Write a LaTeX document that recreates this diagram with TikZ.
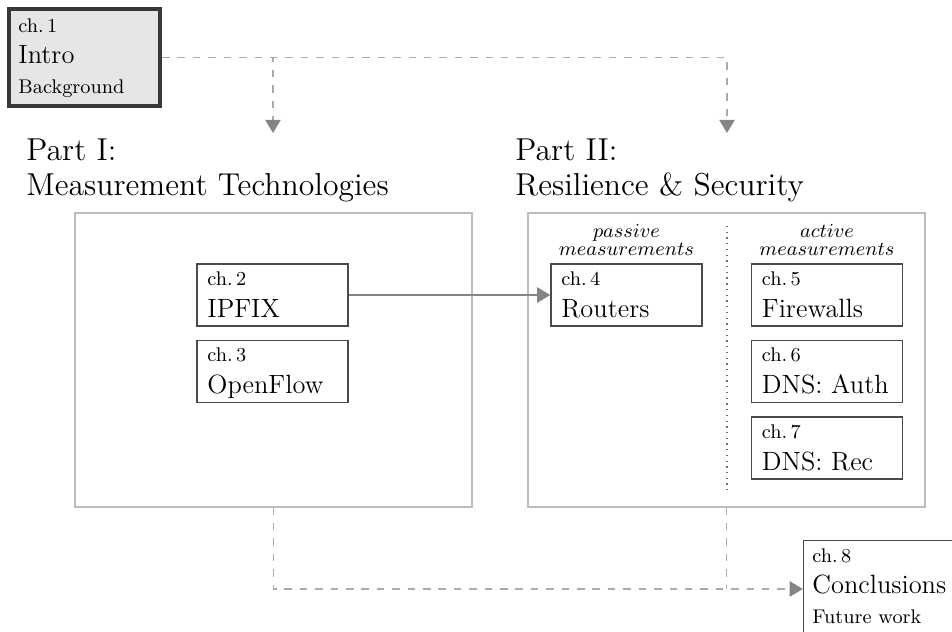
\documentclass[tikz,border=0pt]{standalone}
\usetikzlibrary{arrows.meta}
\def\pxu{0.4545pt}
\definecolor{introfill}{HTML}{E6E6E6}
\definecolor{introedge}{HTML}{383838}
\definecolor{chapedge}{HTML}{4A4A4A}
\definecolor{partedge}{HTML}{BEBEBE}
\definecolor{dashgray}{HTML}{ABABAB}
\definecolor{tipgray}{HTML}{858585}
\definecolor{dotgray}{HTML}{707070}
\begin{document}
\begin{tikzpicture}[x=0.4545pt,y=-0.4545pt,
  chapbox/.style={draw=chapedge, line width=0.6pt, minimum width=151*\pxu, minimum height=62*\pxu, inner sep=0pt},
  bigchap/.style={chapbox, minimum height=97*\pxu},
  introbox/.style={bigchap, fill=introfill, draw=introedge, line width=1.9pt},
  partbox/.style={draw=partedge, line width=0.5pt, minimum width=397*\pxu, minimum height=294*\pxu, inner sep=0pt},
  txt/.style={inner sep=0pt, anchor=base west},
  chno/.style={txt, font=\small},
  chtitle/.style={txt, font=\large},
  chsub/.style={txt, font=\small},
  parttitle/.style={txt, font=\Large},
  mode/.style={inner sep=0pt, anchor=base, font=\small},
  dashconn/.style={draw=dashgray, line width=0.7pt, dash pattern=on 3.4pt off 3.6pt},
  tipped/.style={-{Triangle[length=6pt,width=7pt,color=tipgray]}},
  solidconn/.style={draw=tipgray, line width=0.7pt, tipped},
]
\useasboundingbox (0,0) rectangle (952,632);

% chapter 1
\node[introbox] (intro) at (84.5,57.5) {};
\node[chno] (introno) at (18,32) {ch.\,1};
\node[chtitle] (introtitle) at (18,63) {Intro};
\node[chsub] (introsub) at (18,93) {Background};

% part headings
\node[parttitle] (p1a) at (26,160) {Part I:};
\node[parttitle] (p1b) at (26,195) {Measurement Technologies};
\node[parttitle] (p2a) at (515,160) {Part II:};
\node[parttitle] (p2b) at (515,195) {Resilience \& Security};

% part frames
\node[partbox] (partone) at (273.5,360) {};
\node[partbox] (parttwo) at (726.5,360) {};
\draw[dotgray, line width=0.6pt, dotted] (727,226) -- (727,492);

% measurement kinds
\node[mode] (pas1) at (626.5,237) {$passive$};
\node[mode] (pas2) at (626.5,255) {$measurements$};
\node[mode] (act1) at (827,237) {$active$};
\node[mode] (act2) at (827,255) {$measurements$};

% chapters 2 and 3
\node[chapbox] (c2) at (272.5,295) {};
\node[chno] (c2no) at (207,285) {ch.\,2};
\node[chtitle] (c2t) at (207,317) {IPFIX};
\node[chapbox] (c3) at (272.5,371.5) {};
\node[chno] (c3no) at (207,361.5) {ch.\,3};
\node[chtitle] (c3t) at (207,393.5) {OpenFlow};

% chapters 4 to 7
\node[chapbox] (c4) at (626.5,295) {};
\node[chno] (c4no) at (561,285) {ch.\,4};
\node[chtitle] (c4t) at (561,317) {Routers};
\node[chapbox] (c5) at (827,295) {};
\node[chno] (c5no) at (761.5,285) {ch.\,5};
\node[chtitle] (c5t) at (761.5,317) {Firewalls};
\node[chapbox] (c6) at (827,371.5) {};
\node[chno] (c6no) at (761.5,361.5) {ch.\,6};
\node[chtitle] (c6t) at (761.5,393.5) {DNS: Auth};
\node[chapbox] (c7) at (827,448) {};
\node[chno] (c7no) at (761.5,438) {ch.\,7};
\node[chtitle] (c7t) at (761.5,470) {DNS: Rec};

% chapter 8
\node[bigchap] (c8) at (879,589) {};
\node[chno] (c8no) at (812,562) {ch.\,8};
\node[chtitle] (c8t) at (812,593) {Conclusions};
\node[chsub] (c8s) at (812,623) {Future work};

% connectors
\coordinate (tipone) at (273,133);
\coordinate (tiptwo) at (727,133);
\draw[dashconn, tipped] (intro.east) -| (tipone);
\draw[dashconn, tipped] (intro.east) -| (tiptwo);
\draw[solidconn] (c2.east) -- (c4.west);
\draw[dashconn, tipped] (partone.south) |- (c8.west);
\draw[dashconn] (parttwo.south) -- (parttwo.south |- c8.west);
\end{tikzpicture}
\end{document}
